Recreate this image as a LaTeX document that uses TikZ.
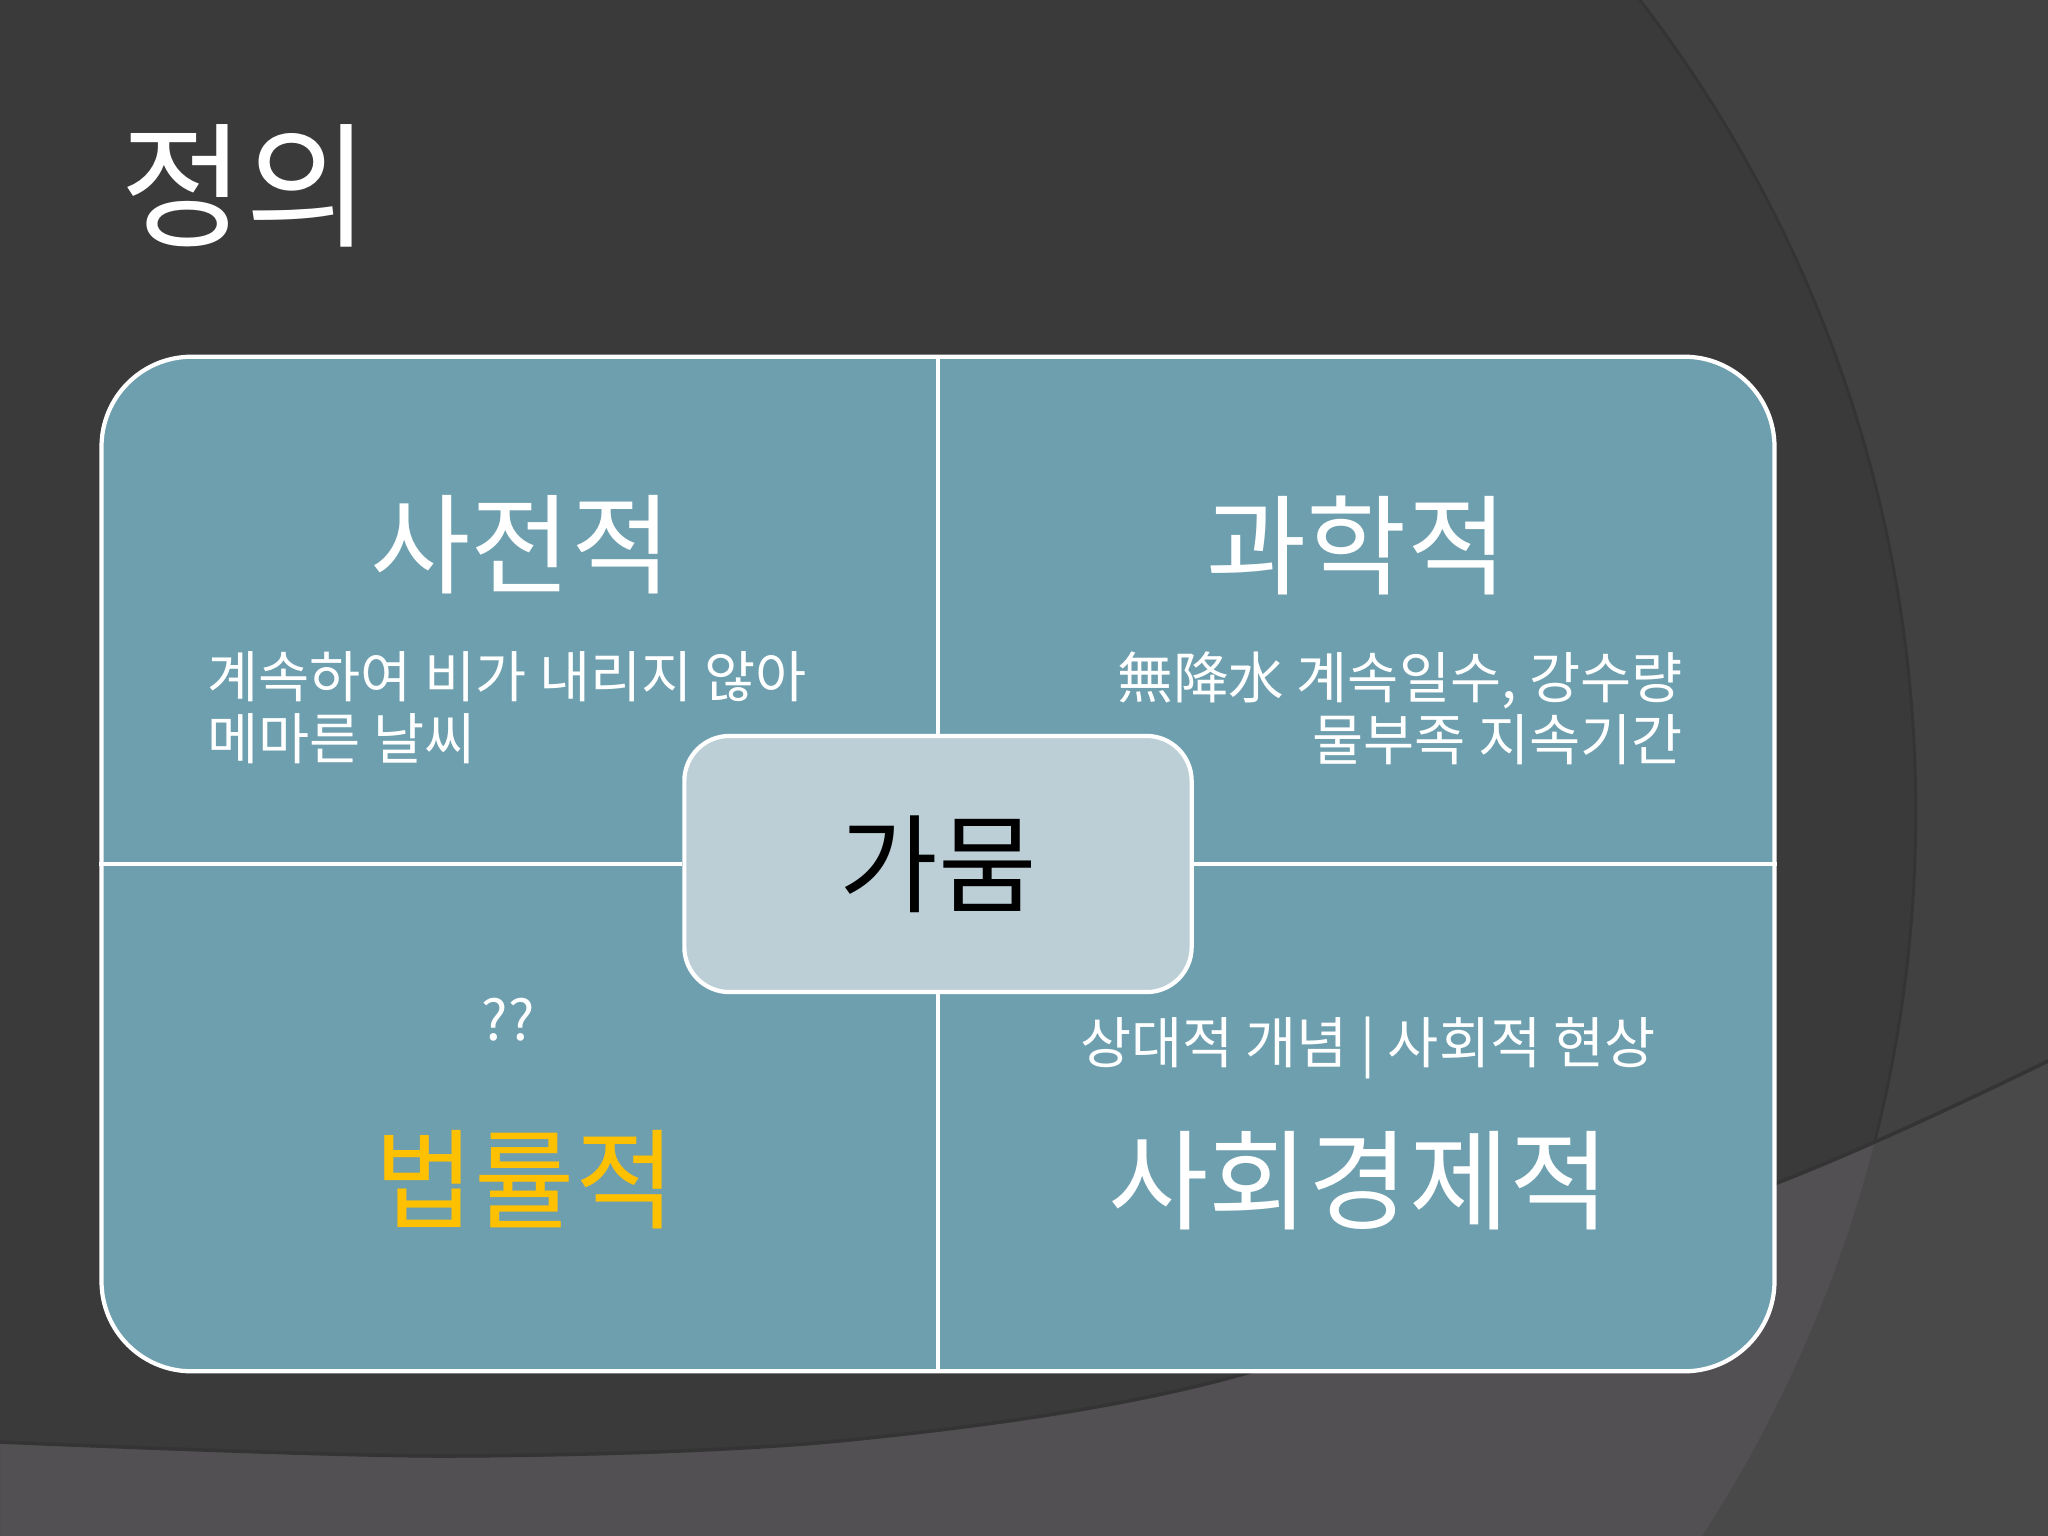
\documentclass[tikz,border=0pt]{standalone}
\usepackage{fontspec}
\setmainfont{Noto Sans CJK KR}
\usepackage{tikz}
\definecolor{bgdark}{HTML}{3A3A3A}
\definecolor{bgright}{HTML}{414141}
\definecolor{bglow}{HTML}{525052}
\definecolor{bglowright}{HTML}{4A494A}
\definecolor{panel}{HTML}{6E9FAE}
\definecolor{hubfill}{HTML}{BCCFD6}
\definecolor{lawyellow}{HTML}{FFC000}
\tikzstyle{panelbox} = [rectangle, rounded corners=0.9cm, minimum width=16.72cm, minimum height=10.14cm, draw=white, line width=1.2pt, fill=panel]
\tikzstyle{hub} = [rectangle, rounded corners=0.45cm, minimum width=5.07cm, minimum height=2.56cm, draw=white, line width=1.2pt, fill=hubfill, text=black, font=\fontsize{30.5}{36}\selectfont]
\tikzstyle{head} = [text=white, font=\fontsize{31}{37}\selectfont]
\tikzstyle{note} = [text=white, font=\fontsize{15.8}{17.6}\selectfont]
\tikzstyle{divider} = [draw=white, line width=0.9pt]
\usetikzlibrary{positioning}

\begin{document}
\begin{tikzpicture}[x=0.01cm, y=-0.01cm]
          \useasboundingbox (0,0) rectangle (2048,1536);
          % background
          \begin{scope}
            \clip (0,0) rectangle (2048,1536);
            \fill[bgright] (0,0) rectangle (2048,1536);
            \fill[bgdark] (583,812) circle[radius=13.32cm];
            \draw[bgdark!90!black, line width=0.8pt] (583,812) circle[radius=13.32cm];
            \fill[bglow] plot[smooth] coordinates {(0,1442) (446,1456) (849,1440) (1240,1375) (1777,1183) (2048,1061)} -- (2048,1536) -- (0,1536) -- cycle;
            \begin{scope}
              \clip plot[smooth] coordinates {(0,1442) (446,1456) (849,1440) (1240,1375) (1777,1183) (2048,1061)} -- (2048,1536) -- (0,1536) -- cycle;
              \fill[bglowright, even odd rule] (0,0) rectangle (2048,1536) (583,812) circle[radius=13.32cm];
            \end{scope}
            \draw[bgdark!90!black, line width=1pt] plot[smooth] coordinates {(0,1442) (446,1456) (849,1440) (1240,1375) (1777,1183) (2048,1061)};
          \end{scope}

          \node[text=white, font=\fontsize{38.5}{44}\selectfont] (title) at (245,186) {정의};

          \node[panelbox] (frame) at (938,864) {};
          \node[hub] (gamul) at (938,864) {가뭄};
          \draw[divider] (frame.north) -- (gamul.north);
          \draw[divider] (gamul.south) -- (frame.south);
          \draw[divider] (frame.west) -- (gamul.west);
          \draw[divider] (gamul.east) -- (frame.east);

          \node[head] (dict) at (521,545) {사전적};
          \node[note, anchor=west, align=left] (dictnote) at (195,708) {계속하여 비가 내리지 않아\\메마른 날씨};
          \node[head] (sci) at (1357,545) {과학적};
          \node[note, anchor=east, align=right] (scinote) at (1695,708) {無降水 계속일수, 강수량\\물부족 지속기간};
          \node[note] (lawnote) at (508,1020) {??};
          \node[head, text=lawyellow] (law) at (525,1180) {법률적};
          \node[note] (socionote) at (1368,1048) {상대적 개념 | 사회적 현상};
          \node[head] (socio) at (1359,1181) {사회경제적};
        \end{tikzpicture}
\end{document}
